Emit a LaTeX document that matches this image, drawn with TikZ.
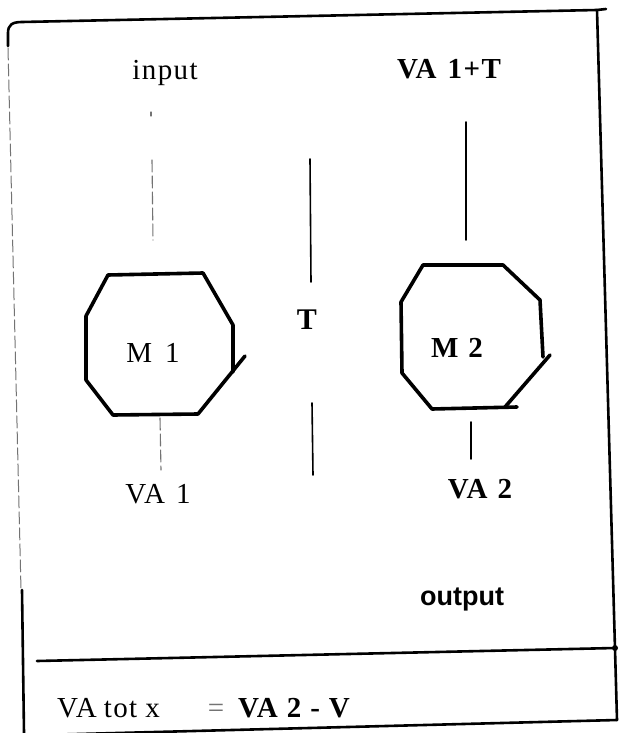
\documentclass[tikz,border=0pt]{standalone}
\usepackage{fontspec}
\setmainfont{Liberation Serif}[LetterSpace=5]
\newfontfamily\sansfam{Liberation Sans}
\begin{document}
\begin{tikzpicture}[x=1pt,y=-1pt, line cap=round, line join=round,
  frame/.style={line width=2.6pt},
  oct/.style={line width=3.6pt},
  wire/.style={line width=1.6pt},
  faint/.style={line width=1.1pt, black!55, dash pattern=on 12pt off 4pt},
  lbl/.style={inner sep=0pt, anchor=base, font=\fontsize{29}{32}\selectfont},
  lblb/.style={inner sep=0pt, anchor=base, font=\fontsize{29}{32}\selectfont\bfseries}]
\useasboundingbox (0,0) rectangle (622,733);

% frame
\draw[frame] (8,46) -- (8,33) .. controls (8,25) and (12,22) .. (22,22) -- (597,10) -- (606,9);
\coordinate (tr) at (597,10);
\coordinate (br) at (617,720);
\draw[frame] (tr) -- (br);
\draw[faint, line width=1pt] (8,48) -- (21,590);
\draw[frame] (22,590) -- (24,733);
\coordinate (ml) at (37,661);
\coordinate (mr) at (615,648);
\draw[frame] (ml) -- (mr);
\fill (mr) circle (3pt);
\coordinate (bl) at (40,735);
\draw[frame] (bl) -- (br);

% texts top
\node[lbl] (input) at (165,80) {input};
\node[lblb] (va1t) at (449,79) {VA\hspace{11pt}1+T};

% input wire
\coordinate (in1) at (151,112);
\coordinate (in2) at (151,116);
\draw[faint] (in1) -- (in2);
\coordinate (in3) at (152,160);
\coordinate (in4) at (153,240);
\draw[faint] (in3) -- (in4);

% VA1+T wire
\coordinate (vt1) at (466,122);
\coordinate (vt2) at (466,240);
\draw[wire] (vt1) -- (vt2);

% T wires
\coordinate (t1) at (310,159);
\coordinate (t2) at (311,282);
\coordinate (t3) at (312,403);
\coordinate (t4) at (313,475);
\draw[wire] (t1) -- (t2);
\draw[wire] (t3) -- (t4);
\node[inner sep=0pt, anchor=base, font=\fontsize{30}{32}\selectfont\bfseries] (T) at (307,329) {T};

% M1 octagon
\draw[oct] (233,372) -- (233,325) -- (203,273) -- (108,275) -- (86,316) -- (86,380) -- (113,415) -- (198,414) -- (245,356);
\node[lbl] (m1) at (153,362) {M\hspace{13pt}1};

% M2 octagon
\draw[oct] (543,357) -- (540,300) -- (503,265) -- (423,265) -- (401,302) -- (402,373) -- (432,409) -- (517,407);
\draw[oct] (505,407) -- (550,355);
\node[lblb] (m2) at (457,357) {M\hspace{10pt}2};

% lower wires
\coordinate (v11) at (160,418);
\coordinate (v12) at (161,470);
\draw[faint] (v11) -- (v12);
\coordinate (v21) at (471,422);
\coordinate (v22) at (471,459);
\draw[wire] (v21) -- (v22);

\node[lbl] (va1) at (158,503) {VA\hspace{11pt}1};
\node[lblb] (va2) at (480,498) {VA\hspace{10pt}2};

\node[inner sep=0pt, anchor=base, font=\fontsize{27}{30}\selectfont\sansfam\bfseries] (out) at (462,605) {output};

% bottom formula
\node[lbl, anchor=base west] (f1) at (57,717) {VA\hspace{7pt}tot\hspace{8pt}x};
\node[lbl, anchor=base, text=black!55] (eq) at (216,717) {=};
\node[lblb, anchor=base west] (f2) at (238,717) {VA\hspace{9pt}2\hspace{9pt}-\hspace{9pt}V};
\end{tikzpicture}
\end{document}
